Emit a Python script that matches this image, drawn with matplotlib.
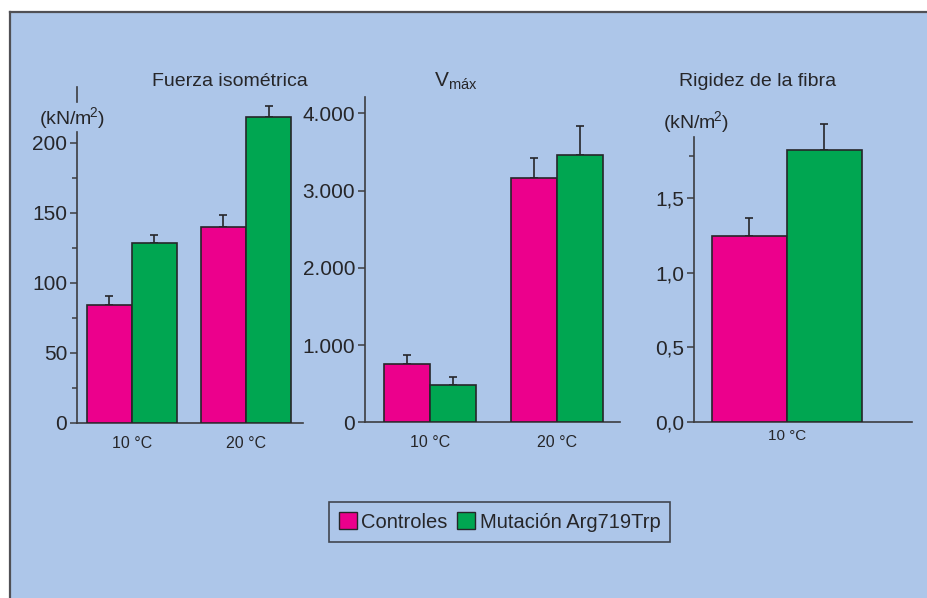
import matplotlib
matplotlib.use("Agg")
import matplotlib.pyplot as plt
from matplotlib.patches import Rectangle, Patch
from matplotlib.lines import Line2D
import numpy as np

plt.rcParams['font.family'] = ['Liberation Sans', 'DejaVu Sans']
plt.rcParams['mathtext.fontset'] = 'custom'
plt.rcParams['mathtext.rm'] = 'Liberation Sans'
plt.rcParams['mathtext.it'] = 'Liberation Sans'

# ---------------- data ----------------
series = ["Controles", "Mutación Arg719Trp"]
temps = ["10 °C", "20 °C"]

force_ctrl = [84, 140]
force_ctrl_err = [6.5, 8.5]
force_mut = [128.5, 218.5]
force_mut_err = [5.5, 8]
force_ticks = [0, 50, 100, 150, 200]
force_labels = ["0", "50", "100", "150", "200"]

vmax_ctrl = [755, 3160]
vmax_ctrl_err = [120, 265]
vmax_mut = [485, 3465]
vmax_mut_err = [97, 365]
vmax_ticks = [0, 1000, 2000, 3000, 4000]
vmax_labels = ["0", "1.000", "2.000", "3.000", "4.000"]

stiff_temps = ["10 °C"]
stiff_ctrl = [1.245]
stiff_ctrl_err = [0.12]
stiff_mut = [1.82]
stiff_mut_err = [0.17]
stiff_ticks = [0.0, 0.5, 1.0, 1.5]
stiff_labels = ["0,0", "0,5", "1,0", "1,5"]

# ---------------- style ----------------
PINK = "#EC008C"
GREEN = "#00A651"
BG = "#ADC6E9"
DARK = "#262629"
AXC = "#3C3C40"
W, H = 928, 598

fig = plt.figure(figsize=(W / 100, H / 100), dpi=100)
fig.patch.set_facecolor("white")

# blue panel with top/left border
fig.patches.append(Rectangle((10 / W, 0), 1 - 10 / W, 1 - 12 / H, transform=fig.transFigure,
                             facecolor=BG, edgecolor="none", zorder=-5))
fig.lines.append(Line2D([10 / W, 10 / W], [0, 1 - 12 / H], transform=fig.transFigure,
                        color="#505055", lw=1.6, zorder=-4))
fig.lines.append(Line2D([10 / W, 1], [1 - 12 / H, 1 - 12 / H], transform=fig.transFigure,
                        color="#505055", lw=1.6, zorder=-4))


def make_ax(x0, x1, y0, y1):
    # pixel box -> figure fraction
    return fig.add_axes([x0 / W, 1 - y1 / H, (x1 - x0) / W, (y1 - y0) / H])


def style(ax):
    ax.set_facecolor("none")
    for s in ["top", "right"]:
        ax.spines[s].set_visible(False)
    for s in ["left", "bottom"]:
        ax.spines[s].set_color(AXC)
        ax.spines[s].set_linewidth(1.2)
    ax.tick_params(axis="y", direction="out", length=5, width=1.1, color=AXC,
                   labelsize=15, labelcolor=DARK, pad=2)
    ax.tick_params(axis="x", length=0, labelsize=11.5, labelcolor=DARK, pad=9)


def bars(ax, x, c, ce, m, me, w):
    x = np.asarray(x, dtype=float)
    ax.bar(x - w / 2, c, w, color=PINK, edgecolor=DARK, linewidth=1.2, zorder=3)
    ax.bar(x + w / 2, m, w, color=GREEN, edgecolor=DARK, linewidth=1.2, zorder=3)
    ax.errorbar(x - w / 2, c, yerr=[np.zeros(len(c)), ce], fmt="none", ecolor=DARK,
                elinewidth=1.2, capsize=3.2, capthick=1.2, zorder=2, clip_on=False)
    ax.errorbar(x + w / 2, m, yerr=[np.zeros(len(m)), me], fmt="none", ecolor=DARK,
                elinewidth=1.2, capsize=3.2, capthick=1.2, zorder=2, clip_on=False)


def units(xpix, ypix):
    # "(kN/m" + superscript 2 + ")"
    fig.text(xpix / W, 1 - ypix / H, r"(kN/m$^{\!\mathrm{2}}$)", ha="center", va="center",
             fontsize=14, color=DARK)


# ---------- Panel 1: Fuerza isométrica ----------
ax1 = make_ax(77, 303, 87, 423)
style(ax1)
x = np.arange(len(temps))
bars(ax1, x, force_ctrl, force_ctrl_err, force_mut, force_mut_err, 0.395)
ax1.set_xlim(-0.482, 1.5)
ax1.set_ylim(0, 240)
ax1.set_yticks(force_ticks)
ax1.set_yticklabels(force_labels)
ax1.set_yticks([25, 75, 125, 175], minor=True)
ax1.tick_params(axis="y", which="minor", length=3.5, width=1.1, color=AXC)
ax1.set_xticks(x)
ax1.set_xticklabels(temps)
ax1.spines["left"].set_bounds(0, 208)
ax1.plot([0, 0], [229, 240], transform=ax1.get_yaxis_transform(), color=AXC, lw=1.2, clip_on=False)
fig.text(230 / W, 1 - 81 / H, "Fuerza isométrica", ha="center", va="center", fontsize=14, color=DARK)
units(72, 118)

# ---------- Panel 2: Vmáx ----------
ax2 = make_ax(365, 620, 97.3, 422.3)
style(ax2)
bars(ax2, x, vmax_ctrl, vmax_ctrl_err, vmax_mut, vmax_mut_err, 0.36)
ax2.set_xlim(-0.512, 1.496)
ax2.set_ylim(0, 4207)
ax2.set_yticks(vmax_ticks)
ax2.set_yticklabels(vmax_labels)
ax2.set_xticks(x)
ax2.set_xticklabels(temps)
fig.text(456 / W, 1 - 81 / H, r"V$_{\mathrm{máx}}$", ha="center", va="center", fontsize=15, color=DARK)

# ---------- Panel 3: Rigidez de la fibra ----------
ax3 = make_ax(694, 911.7, 136.7, 422.3)
style(ax3)
x3 = np.arange(len(stiff_temps))
bars(ax3, x3, stiff_ctrl, stiff_ctrl_err, stiff_mut, stiff_mut_err, 1.0)
ax3.set_xlim(-1.236, 1.667)
ax3.set_ylim(0, 1.907)
ax3.set_yticks(stiff_ticks)
ax3.set_yticklabels(stiff_labels)
ax3.set_yticks([1.78], minor=True)
ax3.tick_params(axis="y", which="minor", length=3.5, width=1.1, color=AXC)
ax3.set_xticks(x3)
ax3.set_xticklabels(stiff_temps)
ax3.tick_params(axis="x", labelsize=11, pad=5)
fig.text(758 / W, 1 - 81 / H, "Rigidez de la fibra", ha="center", va="center", fontsize=14, color=DARK)
units(696, 122)

# ---------- Legend ----------
handles = [Patch(facecolor=PINK, edgecolor=DARK, linewidth=1.0),
           Patch(facecolor=GREEN, edgecolor=DARK, linewidth=1.0)]
leg = fig.legend(handles, series, loc="center", bbox_to_anchor=(499.5 / W, 1 - 522 / H),
                 ncol=2, fontsize=14.5, frameon=True, fancybox=False,
                 handlelength=0.9, handleheight=0.9, handletextpad=0.2, columnspacing=0.5,
                 borderpad=0.5, borderaxespad=0, labelcolor=DARK)
leg.get_frame().set_edgecolor(DARK)
leg.get_frame().set_facecolor(BG)
leg.get_frame().set_linewidth(1.2)

fig.savefig("out.png", dpi=100, facecolor=fig.get_facecolor())
